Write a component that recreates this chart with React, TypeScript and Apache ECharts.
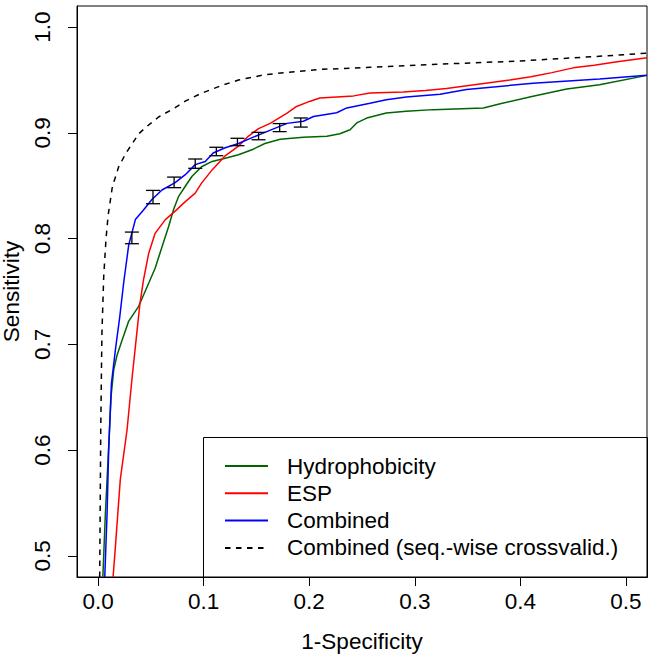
import React, { useEffect, useRef } from "react";
import * as echarts from "echarts";

const xTicks = [0, 0.1, 0.2, 0.3, 0.4, 0.5];
const yTicks = [0.5, 0.6, 0.7, 0.8, 0.9, 1.0];

const seriesNames = [
  "Hydrophobicity",
  "ESP",
  "Combined",
  "Combined (seq.-wise crossvalid.)",
];

const hydrophobicity: number[][] = [
  [0.0045, 0.48], [0.0069, 0.54], [0.01, 0.603], [0.0123, 0.651], [0.0148, 0.676],
  [0.018, 0.69], [0.0227, 0.704], [0.029, 0.722], [0.0384, 0.736], [0.048, 0.758],
  [0.054, 0.772], [0.0605, 0.792], [0.0668, 0.8115], [0.0715, 0.8275], [0.0763, 0.84],
  [0.0826, 0.8495], [0.089, 0.859], [0.098, 0.868], [0.108, 0.873], [0.1204, 0.876],
  [0.133, 0.8794], [0.1457, 0.884], [0.158, 0.89], [0.1725, 0.894], [0.1945, 0.8958],
  [0.2167, 0.8968], [0.229, 0.8992], [0.2387, 0.903], [0.245, 0.9094], [0.2545, 0.914],
  [0.273, 0.9188], [0.292, 0.9204], [0.3175, 0.922], [0.365, 0.9236], [0.381, 0.9276],
  [0.412, 0.9346], [0.444, 0.9415], [0.475, 0.9455], [0.52, 0.9544],
];

const esp: number[][] = [
  [0.0142, 0.48], [0.0164, 0.509], [0.021, 0.572], [0.0274, 0.619], [0.032, 0.6665],
  [0.037, 0.714], [0.0395, 0.7375], [0.043, 0.761], [0.0479, 0.786], [0.054, 0.805],
  [0.0637, 0.818], [0.073, 0.826], [0.0826, 0.835], [0.092, 0.843], [0.098, 0.8525],
  [0.108, 0.865], [0.12, 0.878], [0.133, 0.8875], [0.1425, 0.897], [0.152, 0.904],
  [0.163, 0.909], [0.179, 0.9186], [0.188, 0.925], [0.201, 0.93], [0.21, 0.933],
  [0.242, 0.935], [0.2576, 0.9378], [0.289, 0.9387], [0.31, 0.94], [0.33, 0.942],
  [0.36, 0.946], [0.39, 0.95], [0.41, 0.953], [0.43, 0.957], [0.45, 0.9615],
  [0.47, 0.964], [0.49, 0.967], [0.52, 0.971],
];

const combined: number[][] = [
  [0.0063, 0.48], [0.0085, 0.54], [0.01, 0.6], [0.0126, 0.663], [0.0164, 0.695],
  [0.0205, 0.726], [0.0243, 0.759], [0.029, 0.794], [0.0353, 0.818], [0.043, 0.827],
  [0.051, 0.837], [0.0605, 0.846], [0.073, 0.853], [0.0826, 0.8605], [0.092, 0.87],
  [0.1015, 0.873], [0.109, 0.881], [0.1204, 0.886], [0.133, 0.89], [0.147, 0.896],
  [0.158, 0.9005], [0.179, 0.909], [0.1945, 0.911], [0.204, 0.9155], [0.226, 0.919],
  [0.2356, 0.9236], [0.2576, 0.928], [0.273, 0.9314], [0.292, 0.934], [0.324, 0.9365],
  [0.349, 0.941], [0.412, 0.947], [0.475, 0.951], [0.52, 0.9544],
];

const combinedSeqCV: number[][] = [
  [0.0015, 0.48], [0.0025, 0.62], [0.0036, 0.71], [0.0053, 0.764], [0.0075, 0.8],
  [0.0095, 0.822], [0.0135, 0.849], [0.0195, 0.868], [0.0265, 0.881], [0.0384, 0.899],
  [0.046, 0.906], [0.0573, 0.915], [0.0715, 0.923], [0.0826, 0.93], [0.0968, 0.937],
  [0.116, 0.9445], [0.133, 0.95], [0.158, 0.955], [0.177, 0.957], [0.21, 0.96],
  [0.258, 0.962], [0.324, 0.965], [0.4, 0.968], [0.5, 0.974], [0.52, 0.9755],
];

const errX = [0.032, 0.052, 0.072, 0.092, 0.112, 0.132, 0.152, 0.172, 0.192];
const errY = [0.8007, 0.8393, 0.8532, 0.8709, 0.8824, 0.8914, 0.897, 0.905, 0.9098];
const errHalf = [0.0055, 0.0063, 0.005, 0.0044, 0.004, 0.0035, 0.0035, 0.0038, 0.0043];

const FONT = "Liberation Sans";
const FS = 22.5;

export default function App() {
  const ref = useRef<HTMLDivElement>(null);
  useEffect(() => {
    if (!ref.current) return;
    const chart = echarts.init(ref.current, undefined, { renderer: "svg" });
    const errData = errX.map((x, i) => [x, errY[i], errHalf[i]]);
    const lineSeries = (name: string, data: number[][], color: string, type: any = "solid") => ({
      name,
      type: "line",
      data,
      symbol: "none",
      smooth: false,
      itemStyle: { color },
      lineStyle: { color, width: 1.5, type },
      z: 3,
    });
    chart.setOption({
      animation: false,
      backgroundColor: "#fff",
      textStyle: { fontFamily: FONT },
      grid: {
        left: 77,
        top: 6,
        right: 7,
        bottom: 77,
        containLabel: false,
        outerBoundsMode: "none",
        show: true,
        borderColor: "#000",
        borderWidth: 1,
        backgroundColor: "transparent",
      },
      xAxis: {
        type: "value",
        min: -0.02,
        max: 0.52,
        name: "1-Specificity",
        nameLocation: "middle",
        nameGap: 53,
        nameTextStyle: { fontSize: FS, color: "#000", fontFamily: FONT },
        axisLine: { show: true, onZero: false, lineStyle: { color: "#000", width: 1 } },
        axisTick: { show: true, customValues: xTicks, length: 9, lineStyle: { color: "#000", width: 1 } },
        axisLabel: {
          customValues: xTicks,
          formatter: (v: number) => v.toFixed(1),
          fontSize: FS,
          color: "#000",
          fontFamily: FONT,
          margin: 13,
        },
        splitLine: { show: false },
      },
      yAxis: {
        type: "value",
        min: 0.48,
        max: 1.02,
        name: "Sensitivity",
        nameLocation: "middle",
        nameRotate: 90,
        nameGap: 54,
        nameTextStyle: { fontSize: FS, color: "#000", fontFamily: FONT },
        axisLine: { show: true, onZero: false, lineStyle: { color: "#000", width: 1 } },
        axisTick: { show: true, customValues: yTicks, length: 9, lineStyle: { color: "#000", width: 1 } },
        axisLabel: {
          customValues: yTicks,
          formatter: (v: number) => v.toFixed(1),
          rotate: 90,
          fontSize: FS,
          color: "#000",
          fontFamily: FONT,
          margin: 23,
        },
        splitLine: { show: false },
      },
      legend: {
        show: true,
        orient: "vertical",
        left: 224,
        top: 454.5,
        padding: 0,
        itemWidth: 43,
        itemHeight: 14,
        itemGap: 4.3,
        data: seriesNames,
        itemStyle: { opacity: 0 },
        textStyle: {
          fontSize: FS,
          color: "#000",
          fontFamily: FONT,
          lineHeight: 22,
          padding: [0, 0, 0, 14],
        },
        selectedMode: false,
        z: 10,
      },
      graphic: [
        {
          type: "rect",
          shape: { x: 203.5, y: 437.5, width: 444, height: 140 },
          style: { fill: "transparent", stroke: "#000", lineWidth: 1 },
          z: 5,
        },
      ],
      series: [
        lineSeries(seriesNames[0], hydrophobicity, "#006400"),
        lineSeries(seriesNames[1], esp, "#ff0000"),
        lineSeries(seriesNames[2], combined, "#0000ff"),
        lineSeries(seriesNames[3], combinedSeqCV, "#000000", [5.5, 5.5]),
        {
          name: "error bars",
          type: "custom",
          data: errData,
          z: 4,
          renderItem: (params: any, api: any) => {
            const x = api.value(0);
            const y = api.value(1);
            const h = api.value(2);
            const top = api.coord([x, y + h]);
            const bot = api.coord([x, y - h]);
            const hw = 7;
            const st = { stroke: "#000", lineWidth: 1.3 };
            return {
              type: "group",
              children: [
                { type: "line", shape: { x1: top[0], y1: top[1], x2: bot[0], y2: bot[1] }, style: st },
                { type: "line", shape: { x1: top[0] - hw, y1: top[1], x2: top[0] + hw, y2: top[1] }, style: st },
                { type: "line", shape: { x1: bot[0] - hw, y1: bot[1], x2: bot[0] + hw, y2: bot[1] }, style: st },
              ],
            };
          },
        },
      ],
    });
    return () => chart.dispose();
  }, []);
  return <div ref={ref} style={{ width: 654, height: 654, position: "absolute", left: 0, top: 0 }} />;
}
